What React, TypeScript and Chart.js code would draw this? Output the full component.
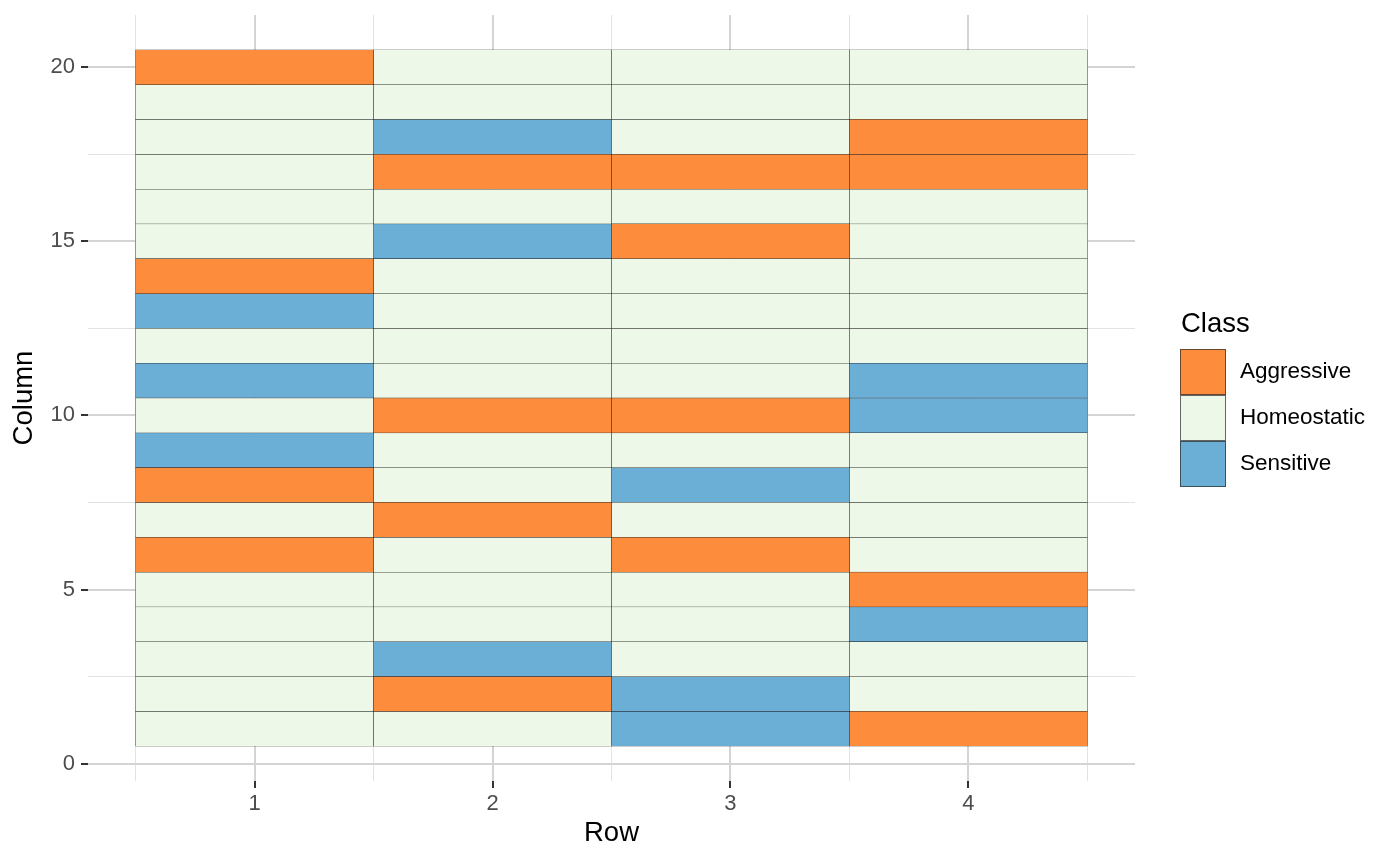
import React, { useEffect, useRef } from "react";
import { Chart, registerables } from "chart.js";

Chart.register(...registerables);

const classNames = ["Aggressive", "Homeostatic", "Sensitive"];
const classColors = ["#FD8D3C", "#EDF8E9", "#6BAED6"];
const classCodes = ["A", "H", "S"];

const rowValues = [1, 2, 3, 4];
// each column list holds the class code for Column = 1..20 (bottom to top)
const row1 = ["H","H","H","H","H","A","H","A","S","H","S","H","S","A","H","H","H","H","H","A"];
const row2 = ["H","A","S","H","H","H","A","H","H","A","H","H","H","H","S","H","A","S","H","H"];
const row3 = ["S","S","H","H","H","A","H","S","H","A","H","H","H","H","A","H","A","H","H","H"];
const row4 = ["A","H","H","S","A","H","H","H","H","S","S","H","H","H","H","H","A","A","H","H"];
const rowsData = [row1, row2, row3, row4];

const xTickValues = [0.5, 1, 1.5, 2, 2.5, 3, 3.5, 4, 4.5];
const yTickValues = [0, 2.5, 5, 7.5, 10, 12.5, 15, 17.5, 20];

const FONT = "'Liberation Sans', Arial, sans-serif";

export default function App() {
  const ref = useRef<HTMLCanvasElement>(null);

  useEffect(() => {
    document.body.style.margin = "0";
    const canvas = ref.current!;

    const datasets = classCodes.map((code, ci) => {
      const data: any[] = [];
      rowsData.forEach((col, ri) => {
        col.forEach((c, yi) => {
          if (c === code) {
            const x = rowValues[ri];
            data.push({ x: [x - 0.5, x + 0.5], y: yi + 1 });
          }
        });
      });
      return {
        label: classNames[ci],
        data,
        backgroundColor: classColors[ci],
        borderColor: "rgba(20,20,20,0.85)",
        borderWidth: 0.5,
        borderSkipped: false,
        grouped: false,
        barPercentage: 1,
        categoryPercentage: 1,
      };
    });

    const legendPlugin = {
      id: "ggLegend",
      afterDraw(chart: any) {
        const ctx = chart.ctx;
        ctx.save();
        ctx.fillStyle = "#000";
        ctx.font = `27.5px ${FONT}`;
        ctx.textAlign = "left";
        ctx.textBaseline = "alphabetic";
        ctx.fillText("Class", 1181, 332);
        const kx = 1180, ky = 349, ks = 46;
        classNames.forEach((name, i) => {
          const y = ky + i * ks;
          ctx.fillStyle = classColors[i];
          ctx.fillRect(kx, y, ks, ks);
          ctx.strokeStyle = "rgba(40,40,40,0.7)";
          ctx.lineWidth = 1;
          ctx.strokeRect(kx + 0.5, y + 0.5, ks - 1, ks - 1);
          ctx.fillStyle = "#000";
          ctx.font = `22.5px ${FONT}`;
          ctx.textBaseline = "middle";
          ctx.fillText(name, 1240, y + ks / 2);
        });
        ctx.restore();
      },
    };

    const isInt = (v: number) => Math.abs(v - Math.round(v)) < 1e-9;
    const isMajorY = (v: number) => Math.abs(v / 5 - Math.round(v / 5)) < 1e-9;

    const chart = new Chart(canvas, {
      type: "bar",
      data: { datasets: datasets as any },
      plugins: [legendPlugin],
      options: {
        indexAxis: "y",
        animation: false,
        responsive: false,
        devicePixelRatio: 1,
        layout: { padding: { left: 0, right: 265, top: 15, bottom: 0 } },
        plugins: { legend: { display: false }, tooltip: { enabled: false } },
        scales: {
          x: {
            type: "linear",
            min: 0.3,
            max: 4.7,
            offset: false,
            position: "bottom",
            afterBuildTicks: (s: any) => {
              s.ticks = xTickValues.map((v) => ({ value: v }));
            },
            afterFit: (s: any) => {
              s.height = 84;
              s.paddingLeft = 0;
              s.paddingRight = 0;
            },
            border: { display: false },
            grid: {
              offset: false,
              color: (c: any) => (isInt(c.tick?.value ?? 0) ? "#D4D4D4" : "#E3E3E3"),
              lineWidth: (c: any) => (isInt(c.tick?.value ?? 0) ? 2 : 1),
              tickLength: 7,
              tickColor: (c: any) => (isInt(c.tick?.value ?? 0) ? "#333333" : "rgba(0,0,0,0)"),
              tickWidth: 2,
            },
            ticks: {
              autoSkip: false,
              maxRotation: 0,
              padding: 3,
              color: "#4D4D4D",
              font: { family: FONT, size: 22 },
              callback: (v: any) => (isInt(Number(v)) ? String(v) : ""),
            },
            title: {
              display: true,
              text: "Row",
              color: "#000",
              font: { family: FONT, size: 27.5 },
              padding: { top: 0, bottom: 15 },
            },
          },
          y: {
            type: "linear",
            min: -0.5,
            max: 21.5,
            offset: false,
            position: "left",
            afterBuildTicks: (s: any) => {
              s.ticks = yTickValues.map((v) => ({ value: v }));
            },
            afterFit: (s: any) => {
              s.width = 88;
              s.paddingTop = 0;
              s.paddingBottom = 0;
            },
            border: { display: false },
            grid: {
              offset: false,
              color: (c: any) => (isMajorY(c.tick?.value ?? 0) ? "#D4D4D4" : "#E3E3E3"),
              lineWidth: (c: any) => (isMajorY(c.tick?.value ?? 0) ? 2 : 1),
              tickLength: 7,
              tickColor: (c: any) => (isMajorY(c.tick?.value ?? 0) ? "#333333" : "rgba(0,0,0,0)"),
              tickWidth: 2,
            },
            ticks: {
              autoSkip: false,
              padding: 6,
              color: "#4D4D4D",
              font: { family: FONT, size: 22 },
              callback: (v: any) => (isMajorY(Number(v)) ? String(v) : ""),
            },
            title: {
              display: true,
              text: "Column",
              color: "#000",
              font: { family: FONT, size: 27.5 },
              padding: { top: 8, bottom: 0 },
            },
          },
        },
      },
    });
    return () => chart.destroy();
  }, []);

  return (
    <div style={{ width: 1400, height: 865, background: "#fff" }}>
      <canvas ref={ref} width={1400} height={865} style={{ display: "block" }} />
    </div>
  );
}
